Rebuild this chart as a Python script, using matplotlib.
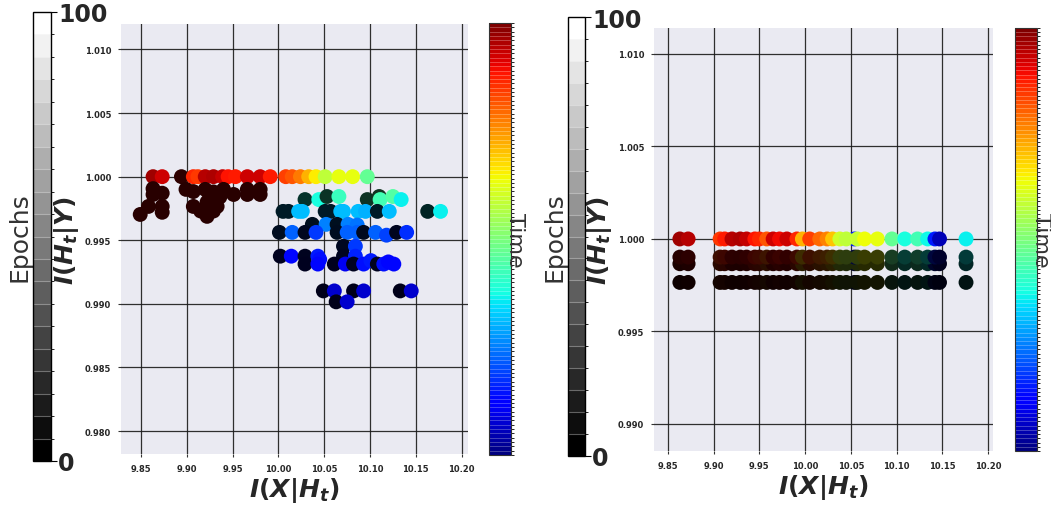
import numpy as np
import matplotlib
matplotlib.use("Agg")
import matplotlib.pyplot as plt
from matplotlib import colors as mcolors
from matplotlib.cm import ScalarMappable

plt.rcParams['mathtext.fontset'] = 'custom'
plt.rcParams['mathtext.it'] = 'DejaVu Sans:italic:bold'
plt.rcParams['mathtext.rm'] = 'DejaVu Sans:bold'
plt.rcParams['mathtext.bf'] = 'DejaVu Sans:bold'

# ---- left panel: I(X;T), I(T;Y) per snapshot, jet position and brightness ----
left_x = [
    # early epochs, I(T;Y) already at 1
    9.863, 9.873, 9.894, 9.907, 9.912, 9.920, 9.929, 9.939, 9.945, 9.953,
    9.966, 9.980, 9.991, 10.008, 10.015, 10.024, 10.033, 10.041, 10.051,
    10.066, 10.081, 10.097,
    # dark cluster on the left
    9.849, 9.858, 9.873, 9.873, 9.863, 9.873, 9.863, 9.899, 9.907, 9.920,
    9.929, 9.940, 9.951, 9.966, 9.966, 9.980, 9.980, 9.907, 9.915, 9.922,
    9.929, 9.922, 9.933, 9.936, 9.925,
    # later epochs
    10.029, 10.044, 10.053, 10.066, 10.097, 10.110, 10.111, 10.125, 10.134,
    10.005, 10.011, 10.022, 10.026, 10.051, 10.057, 10.068, 10.071, 10.087,
    10.095, 10.108, 10.121, 10.163, 10.177,
    10.037, 10.052, 10.064, 10.076, 10.086,
    10.001, 10.015, 10.029, 10.041, 10.064, 10.075, 10.086, 10.093, 10.106,
    10.118, 10.129, 10.140,
    10.071, 10.084,
    10.002, 10.014, 10.029, 10.043, 10.045, 10.071, 10.084,
    10.029, 10.043, 10.061, 10.073, 10.082, 10.093, 10.101, 10.108, 10.115,
    10.120, 10.126,
    10.049, 10.061, 10.082, 10.093, 10.133, 10.145,
    10.063, 10.075,
]
left_y = [
    1.0000, 1.0000, 1.0000, 1.0000, 1.0000, 1.0000, 1.0000, 1.0000, 1.0000, 1.0000,
    1.0000, 1.0000, 1.0000, 1.0000, 1.0000, 1.0000, 1.0000, 1.0000, 1.0000,
    1.0000, 1.0000, 1.0000,
    0.99703, 0.99766, 0.99766, 0.99720, 0.99906, 0.99870, 0.99860, 0.99900, 0.99883, 0.99900,
    0.99880, 0.99900, 0.99860, 0.99900, 0.99860, 0.99900, 0.99860, 0.99766, 0.99730, 0.99688,
    0.99730, 0.99800, 0.99766, 0.99840, 0.99844,
    0.99820, 0.99820, 0.99844, 0.99844, 0.99820, 0.99844, 0.99820, 0.99844, 0.99820,
    0.99727, 0.99727, 0.99727, 0.99727, 0.99727, 0.99727, 0.99727, 0.99727, 0.99727,
    0.99727, 0.99727, 0.99727, 0.99727, 0.99727,
    0.99625, 0.99625, 0.99625, 0.99625, 0.99620,
    0.99562, 0.99562, 0.99562, 0.99562, 0.99562, 0.99562, 0.99562, 0.99562, 0.99562,
    0.99540, 0.99562, 0.99562,
    0.99453, 0.99453,
    0.99375, 0.99375, 0.99375, 0.99375, 0.99350, 0.99375, 0.99375,
    0.99313, 0.99313, 0.99313, 0.99313, 0.99313, 0.99313, 0.99340, 0.99313, 0.99313,
    0.99330, 0.99313,
    0.99102, 0.99102, 0.99102, 0.99102, 0.99102, 0.99102,
    0.99016, 0.99016,
]
left_time = [
    0.97, 0.93, 0.95, 0.87, 0.85, 0.95, 0.96, 0.94, 0.89, 0.88,
    0.93, 0.93, 0.88, 0.84, 0.82, 0.78, 0.72, 0.66, 0.58,
    0.63, 0.63, 0.47,
    0.95, 0.95, 0.95, 0.95, 0.95, 0.95, 0.95, 0.95, 0.95, 0.95,
    0.95, 0.95, 0.95, 0.95, 0.95, 0.95, 0.95, 0.95, 0.95, 0.95,
    0.95, 0.95, 0.95, 0.95, 0.95,
    0.38, 0.38, 0.42, 0.42, 0.43, 0.45, 0.43, 0.45, 0.36,
    0.30, 0.30, 0.31, 0.31, 0.30, 0.30, 0.31, 0.31, 0.31,
    0.30, 0.30, 0.31, 0.36, 0.36,
    0.25, 0.25, 0.25, 0.25, 0.24,
    0.22, 0.22, 0.18, 0.18, 0.22, 0.22, 0.22, 0.20, 0.22,
    0.19, 0.17, 0.17,
    0.18, 0.18,
    0.13, 0.13, 0.15, 0.15, 0.14, 0.16, 0.16,
    0.13, 0.13, 0.10, 0.10, 0.14, 0.14, 0.15, 0.14, 0.14,
    0.13, 0.13,
    0.07, 0.07, 0.07, 0.07, 0.07, 0.07,
    0.07, 0.07,
]
left_shade = [
    1, 1, 0.25, 1, 1, 1, 1, 1, 1, 1,
    1, 1, 1, 1, 1, 1, 1, 1, 1,
    1, 1, 1,
    0.22, 0.22, 0.22, 0.22, 0.22, 0.22, 0.22, 0.22, 0.22, 0.22,
    0.22, 0.22, 0.22, 0.22, 0.22, 0.22, 0.22, 0.22, 0.22, 0.22,
    0.22, 0.22, 0.22, 0.22, 0.22,
    0.2, 1, 0.2, 1, 0.2, 0.2, 1, 1, 1,
    0.15, 0.15, 1, 1, 0.15, 0.15, 1, 1, 1,
    1, 0.15, 1, 0.15, 1,
    0.12, 1, 0.12, 1, 1,
    0.12, 1, 0.12, 1, 0.12, 1, 1, 0.12, 1,
    1, 0.12, 1,
    0.12, 1,
    0.12, 1, 0.12, 1, 1, 0.12, 1,
    0.12, 1, 0.12, 1, 0.12, 1, 1, 0.12, 1,
    1, 1,
    0.12, 1, 0.12, 1, 0.12, 1,
    0.12, 1,
]

# ---- right panel: snapshots share I(X;T), one I(T;Y) level per layer ----
right_x = [
    10.054,
    9.863, 9.872, 9.907, 9.912, 9.920, 9.929, 9.936, 9.945, 9.950, 9.958,
    9.965, 9.972, 9.980, 9.991, 9.997, 10.005, 10.016, 10.024, 10.030,
    10.038, 10.045, 10.057, 10.065, 10.079, 10.095, 10.109, 10.123, 10.134,
    10.142, 10.147, 10.176,
]
right_time = [
    0.15,
    0.97, 0.95, 0.85, 0.88, 0.95, 0.96, 0.94, 0.89, 0.87, 0.82,
    0.93, 0.90, 0.93, 0.87, 0.72, 0.84, 0.80, 0.77, 0.70,
    0.60, 0.58, 0.59, 0.64, 0.63, 0.47, 0.38, 0.43, 0.37,
    0.15, 0.05, 0.36,
]
right_levels = [0.99765, 0.99866, 0.99902, 1.0000]
right_level_shade = [0.08, 0.16, 0.24, 1.0]

epoch_bounds = np.linspace(0, 100, 21)
time_bounds = np.linspace(0, 1, 101)


def point_colors(time, shade):
    rgb = plt.cm.jet(np.asarray(time))[:, :3] * np.asarray(shade)[:, None]
    return np.clip(rgb, 0, 1)


def style_axes(ax, xlim, ylim, yticks):
    ax.set_facecolor('#EAEAF2')
    for s in ax.spines.values():
        s.set_visible(False)
    ax.set_xlim(*xlim)
    ax.set_ylim(*ylim)
    ax.set_xticks(np.arange(9.85, 10.201, 0.05))
    ax.set_yticks(yticks)
    ax.xaxis.set_major_formatter(plt.FormatStrFormatter('%.2f'))
    ax.yaxis.set_major_formatter(plt.FormatStrFormatter('%.3f'))
    ax.grid(True, color='#1a1a1a', lw=0.9, alpha=0.9)
    ax.set_axisbelow(True)
    ax.tick_params(length=2, width=0.8, color='#333333', labelsize=6,
                   labelcolor='#262626', pad=5)
    for lab in ax.get_xticklabels() + ax.get_yticklabels():
        lab.set_fontweight('bold')
    ax.set_xlabel(r'$I(X|H_t)$', fontsize=18, color='#262626', labelpad=2)
    ax.set_ylabel(r'$I(H_t|Y)$', fontsize=18, color='#262626', labelpad=3)


def epoch_bar(fig, rect):
    cax = fig.add_axes(rect)
    cmap = plt.get_cmap('gray', 20)
    norm = mcolors.BoundaryNorm(epoch_bounds, cmap.N)
    cb = fig.colorbar(ScalarMappable(norm=norm, cmap=cmap), cax=cax,
                      boundaries=epoch_bounds, ticks=[0, 100], drawedges=True)
    cb.dividers.set_color((1, 1, 1, 0.35))
    cb.dividers.set_linewidth(0.8)
    cb.outline.set_edgecolor('black')
    cb.outline.set_linewidth(1.0)
    cax.tick_params(length=4, width=0.8, labelsize=17, labelcolor='#262626', pad=1)
    for lab in cax.get_yticklabels():
        lab.set_fontweight('bold')
    cax.yaxis.set_label_position('left')
    cb.set_label('Epochs', fontsize=18, color='#333333', labelpad=1)
    return cb


def time_bar(fig, rect):
    cax = fig.add_axes(rect)
    cmap = plt.get_cmap('jet', 100)
    norm = mcolors.BoundaryNorm(time_bounds, cmap.N)
    cb = fig.colorbar(ScalarMappable(norm=norm, cmap=cmap), cax=cax,
                      boundaries=time_bounds, ticks=[], drawedges=True)
    cb.dividers.set_color((1, 1, 1, 0.3))
    cb.dividers.set_linewidth(0.6)
    cb.outline.set_edgecolor('#333333')
    cb.outline.set_linewidth(0.8)
    cb.set_label('Time', fontsize=16, color='#333333', rotation=270, labelpad=5)
    return cb


W, H = 1051, 506
fig = plt.figure(figsize=(W / 100, H / 100), dpi=100)


def frac(x0, y0, x1, y1):
    return [x0 / W, 1 - y1 / H, (x1 - x0) / W, (y1 - y0) / H]


# left panel
ax1 = fig.add_axes(frac(121, 25, 468, 455))
ax1.scatter(left_x, left_y, c=point_colors(left_time, left_shade), s=115,
            linewidths=0, zorder=3)
style_axes(ax1, (9.828, 10.207), (0.9782, 1.0120),
           [0.980, 0.985, 0.990, 0.995, 1.000, 1.005, 1.010])
epoch_bar(fig, frac(33, 13, 51, 462))
time_bar(fig, frac(489, 24, 511, 456))

# right panel
ax2 = fig.add_axes(frac(654, 29, 993, 452))
for level, shade in zip(right_levels, right_level_shade):
    ax2.scatter(right_x, [level] * len(right_x),
                c=point_colors(right_time, [shade] * len(right_x)), s=115,
                linewidths=0, zorder=3)
style_axes(ax2, (9.8347, 10.2055), (0.98854, 1.0114),
           [0.990, 0.995, 1.000, 1.005, 1.010])
epoch_bar(fig, frac(568, 18, 585, 457))
time_bar(fig, frac(1015, 29, 1037, 452))

fig.savefig('out.png', dpi=100)
